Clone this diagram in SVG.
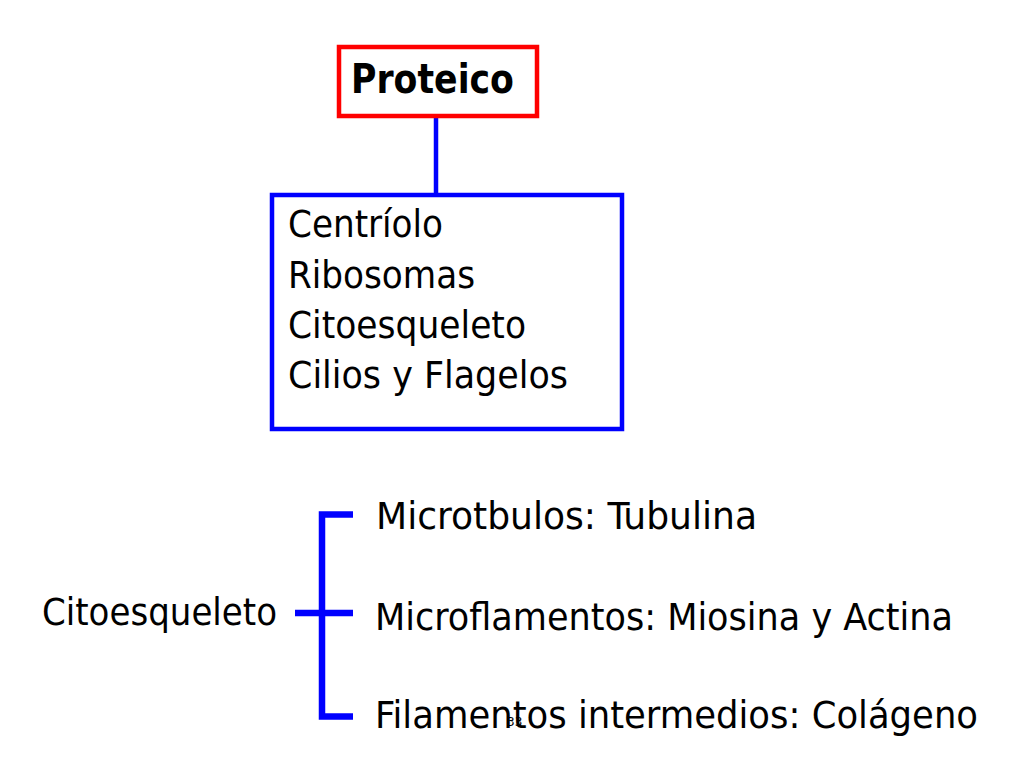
<svg xmlns="http://www.w3.org/2000/svg" width="1024" height="768" viewBox="0 0 1024 768">
<style>
.t{font-family:'DejaVu Sans Condensed','DejaVu Sans',sans-serif;font-stretch:condensed;font-size:37px;fill:#000}
.b{font-weight:bold;font-size:40px}
.ln{stroke:#0000ff;fill:none}
</style>
<rect width="1024" height="768" fill="#ffffff"/>
<g id="connectors">
<line class="ln" x1="436" y1="117" x2="436" y2="195" stroke-width="4.5"/>
<path class="ln" d="M353 514.5 H322 V716.5 H353 M295 613 H353" stroke-width="6.5"/>
</g>
<g id="proteico">
<rect x="339" y="47" width="198" height="69" fill="#fff" stroke="#ff0000" stroke-width="4.5"/>
<text class="t b" x="351" y="93" textLength="163" lengthAdjust="spacingAndGlyphs">Proteico</text>
</g>
<g id="lista">
<rect x="272" y="195" width="350" height="234" fill="#fff" stroke="#0000ff" stroke-width="4.5"/>
<text class="t" x="288" y="237" textLength="155" lengthAdjust="spacingAndGlyphs">Centríolo</text>
<text class="t" x="288" y="288" textLength="187" lengthAdjust="spacingAndGlyphs">Ribosomas</text>
<text class="t" x="288" y="338" textLength="238" lengthAdjust="spacingAndGlyphs">Citoesqueleto</text>
<text class="t" x="288" y="388" textLength="280" lengthAdjust="spacingAndGlyphs">Cilios y Flagelos</text>
</g>
<g id="citoesqueleto">
<text class="t" x="42" y="625" textLength="235" lengthAdjust="spacingAndGlyphs">Citoesqueleto</text>
</g>
<g id="microtubulos">
<text class="t" x="376" y="529" textLength="381" lengthAdjust="spacingAndGlyphs">Microtbulos: Tubulina</text>
</g>
<g id="microfilamentos">
<text class="t" x="375" y="630" textLength="578" lengthAdjust="spacingAndGlyphs">Microflamentos: Miosina y Actina</text>
</g>
<g id="filamentos">
<text class="t" x="375" y="728" textLength="603" lengthAdjust="spacingAndGlyphs">Filamentos intermedios: Colágeno</text>
</g>
<g id="pagina">
<text x="507" y="726" style="font-family:'DejaVu Sans',sans-serif;font-size:12px;fill:#000">33</text>
</g>
</svg>
